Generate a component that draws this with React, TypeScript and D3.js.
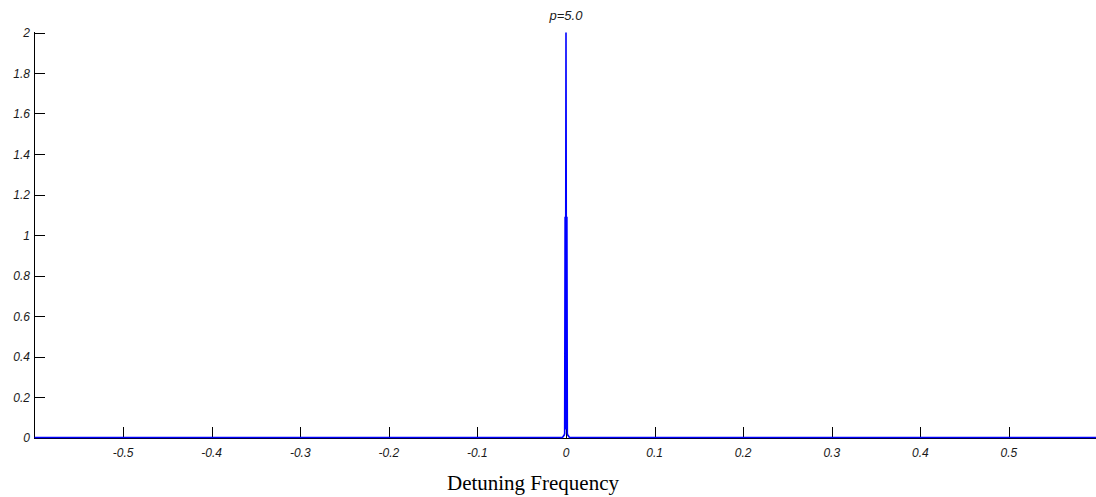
import React, { useEffect, useRef } from 'react';
import * as d3 from 'd3';

// spectrum samples around zero detuning
const freq = [-0.6, -0.004, -0.002, -0.0015, -0.001, -0.0006, 0, 0.0006, 0.001, 0.0015, 0.002, 0.004, 0.6];
const amp = [0, 0, 0.012, 0.02, 1.09, 0.04, 2, 0.04, 1.09, 0.02, 0.012, 0, 0];

const xTicks = [-0.5, -0.4, -0.3, -0.2, -0.1, 0, 0.1, 0.2, 0.3, 0.4, 0.5];
const yTicks = [0, 0.2, 0.4, 0.6, 0.8, 1, 1.2, 1.4, 1.6, 1.8, 2];

const title = 'p=5.0';
const xLabel = 'Detuning Frequency';

const width = 1096;
const height = 497;

const App = () => {
  const svgRef = useRef<SVGSVGElement>(null);

  useEffect(() => {
    const svg = d3.select(svgRef.current);
    svg.selectAll('*').remove();

    const x = d3.scaleLinear().domain([-0.6, 0.6]).range([34.5, 1097.5]);
    const y = d3.scaleLinear().domain([0, 2]).range([437.5, 32.5]);

    const fmt = (d: number) => String(d);

    // x axis: baseline and inward ticks
    const gx = svg.append('g');
    gx.append('line')
      .attr('x1', 34).attr('x2', width)
      .attr('y1', 438.5).attr('y2', 438.5)
      .attr('stroke', '#000').attr('stroke-width', 1.2);
    gx.selectAll('line.tick')
      .data(xTicks)
      .join('line')
      .attr('class', 'tick')
      .attr('x1', d => Math.round(x(d)) + 0.5).attr('x2', d => Math.round(x(d)) + 0.5)
      .attr('y1', 438).attr('y2', 427)
      .attr('stroke', '#000').attr('stroke-width', 1);
    gx.selectAll('text')
      .data(xTicks)
      .join('text')
      .attr('x', d => x(d))
      .attr('y', 457)
      .attr('text-anchor', 'middle')
      .style('font-family', 'Arial, "Liberation Sans", sans-serif')
      .style('font-size', '12px')
      .style('font-style', 'italic')
      .style('fill', '#1a1a1a')
      .text(d => fmt(d));

    // y axis: left line and inward ticks
    const gy = svg.append('g');
    gy.append('line')
      .attr('x1', 34.5).attr('x2', 34.5)
      .attr('y1', 32).attr('y2', 438)
      .attr('stroke', '#000').attr('stroke-width', 1);
    gy.selectAll('line.tick')
      .data(yTicks)
      .join('line')
      .attr('class', 'tick')
      .attr('x1', 34).attr('x2', 45)
      .attr('y1', d => Math.round(y(d)) + 0.5).attr('y2', d => Math.round(y(d)) + 0.5)
      .attr('stroke', '#000').attr('stroke-width', 1);
    gy.selectAll('text')
      .data(yTicks)
      .join('text')
      .attr('x', 30)
      .attr('y', d => y(d) + 4.5)
      .attr('text-anchor', 'end')
      .style('font-family', 'Arial, "Liberation Sans", sans-serif')
      .style('font-size', '12px')
      .style('font-style', 'italic')
      .style('fill', '#1a1a1a')
      .text(d => fmt(d));

    // spectrum line
    const pts = freq.map((f, i) => [f, amp[i]] as [number, number]);
    svg.append('path')
      .datum(pts)
      .attr('d', d3.line<[number, number]>().x(d => x(d[0])).y(d => y(d[1])))
      .attr('fill', 'none')
      .attr('stroke', '#0000ff')
      .attr('stroke-width', 1.6)
      .attr('stroke-linejoin', 'miter');

    // title
    svg.append('text')
      .attr('x', x(0))
      .attr('y', 20)
      .attr('text-anchor', 'middle')
      .style('font-family', 'Arial, "Liberation Sans", sans-serif')
      .style('font-size', '13px')
      .style('font-style', 'italic')
      .style('fill', '#1a1a1a')
      .text(title);

    // x label
    svg.append('text')
      .attr('x', 533)
      .attr('y', 490)
      .attr('text-anchor', 'middle')
      .style('font-family', '"Liberation Serif", "Times New Roman", serif')
      .style('font-size', '21px')
      .style('fill', '#000')
      .text(xLabel);
  }, []);

  return (
    <svg
      ref={svgRef}
      width={width}
      height={height}
      style={{ position: 'absolute', left: 0, top: 0, background: '#fff' }}
    />
  );
};

export default App;
